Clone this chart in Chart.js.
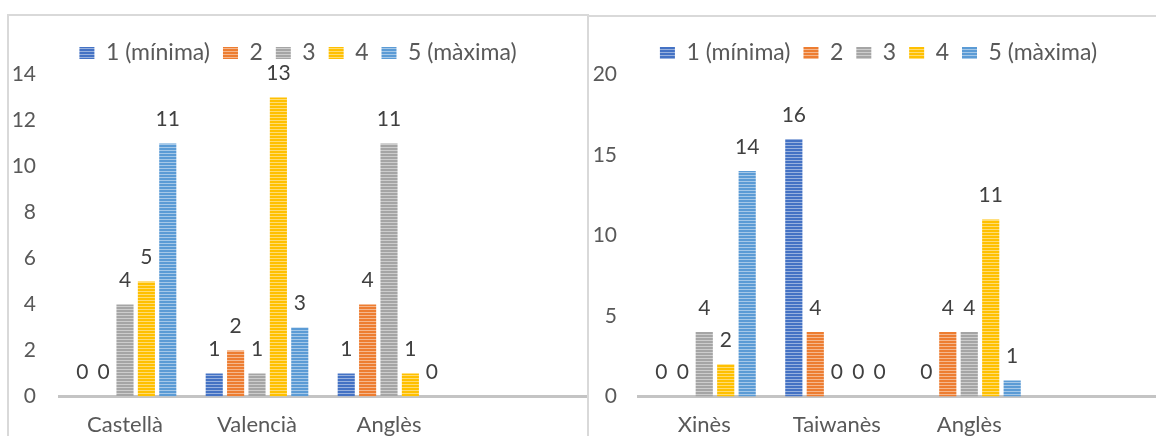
<!DOCTYPE html>
<html>
<head>
<meta charset="utf-8">
<script src="https://cdn.jsdelivr.net/npm/chart.js@4.4.0/dist/chart.umd.min.js"></script>
<style>
  body { margin: 0; width: 1156px; height: 436px; overflow: hidden; background: #fff; position: relative; }
  .panel { position: absolute; border: 2px solid #d9d9d9; background: #fff; overflow: hidden; }
  #p1 { left: 7px; top: 14px; width: 578px; height: 440px; }
  #p2 { left: 587px; top: 15px; width: 588px; height: 440px; }
</style>
</head>
<body>
<div class="panel" id="p1"><canvas id="chart1" width="578" height="440"></canvas></div>
<div class="panel" id="p2"><canvas id="chart2" width="588" height="440"></canvas></div>
<script>
// series names (legend)
const seriesNames = ['1 (mínima)', '2', '3', '4', '5 (màxima)'];
const seriesColors = ['#4472C4', '#ED7D31', '#A5A5A5', '#FFC000', '#5B9BD5'];

// left chart
const cats1 = ['Castellà', 'Valencià', 'Anglès', ''];
const left1 = [0, 1, 1];
const left2 = [0, 2, 4];
const left3 = [4, 1, 11];
const left4 = [5, 13, 1];
const left5 = [11, 3, 0];

// right chart
const cats2 = ['Xinès', 'Taiwanès', 'Anglès', ''];
const right1 = [0, 16, 0];
const right2 = [0, 4, 4];
const right3 = [4, 0, 4];
const right4 = [2, 0, 11];
const right5 = [14, 0, 1];

Chart.defaults.font.family = 'Lato, sans-serif';
Chart.defaults.font.size = 21;
Chart.defaults.color = '#595959';

// striped fill like the excel pattern
function stripes(color) {
  const c = document.createElement('canvas');
  c.width = 4; c.height = 3;
  const g = c.getContext('2d');
  g.fillStyle = color;
  g.fillRect(0, 0, 4, 3);
  g.fillStyle = 'rgba(255,255,255,0.45)';
  g.fillRect(0, 2, 4, 1);
  return g.createPattern(c, 'repeat');
}

// value labels above the bars
const valueLabels = {
  id: 'valueLabels',
  afterDatasetsDraw(chart) {
    const ctx = chart.ctx;
    ctx.save();
    ctx.font = '21px Lato, sans-serif';
    ctx.fillStyle = '#404040';
    ctx.textAlign = 'center';
    ctx.textBaseline = 'middle';
    chart.data.datasets.forEach((ds, i) => {
      chart.getDatasetMeta(i).data.forEach((bar, j) => {
        if (ds.data[j] == null) return;
        ctx.fillText(String(ds.data[j]), bar.x, bar.y - 24);
      });
    });
    ctx.restore();
  }
};

function makeChart(id, cats, values, max, step, cfg) {
  const legendBox = {
    id: 'legendBox',
    beforeInit(chart) {
      const fit = chart.legend.fit;
      chart.legend.fit = function () {
        fit.call(this);
        this.height = cfg.legendH;
      };
    }
  };
  return new Chart(document.getElementById(id), {
    type: 'bar',
    data: {
      labels: cats,
      datasets: values.map((v, i) => ({
        label: seriesNames[i],
        data: v,
        backgroundColor: stripes(seriesColors[i]),
        borderWidth: 0,
        categoryPercentage: 0.81,
        barPercentage: 0.8
      }))
    },
    options: {
      responsive: false,
      animation: false,
      layout: { padding: { top: cfg.padTop, right: cfg.padRight, left: 0, bottom: 0 } },
      plugins: {
        legend: {
          position: 'top',
          labels: { boxWidth: 15, boxHeight: 12, padding: 13, color: '#595959', font: { size: 23 } }
        },
        tooltip: { enabled: false }
      },
      scales: {
        x: {
          grid: { display: false, drawTicks: false },
          border: { display: true, color: '#c4c4c4', width: 3 },
          ticks: { padding: 15, color: '#595959', font: { size: 22 } },
          afterFit: s => { s.height = cfg.xH; }
        },
        y: {
          min: 0, max: max,
          grid: { display: false, drawTicks: false },
          border: { display: false },
          ticks: { stepSize: step, padding: cfg.yPad, color: '#595959' },
          afterFit: s => { s.width = cfg.yW; }
        }
      }
    },
    plugins: [legendBox, valueLabels]
  });
}

makeChart('chart1', cats1, [left1, left2, left3, left4, left5], 14, 2,
  { legendH: 46, padTop: 12.5, padRight: 0, xH: 59.5, yW: 50, yPad: 23 });
makeChart('chart2', cats2, [right1, right2, right3, right4, right5], 20, 5,
  { legendH: 46, padTop: 11.5, padRight: 9, xH: 60.5, yW: 49, yPad: 21 });
</script>
</body>
</html>
